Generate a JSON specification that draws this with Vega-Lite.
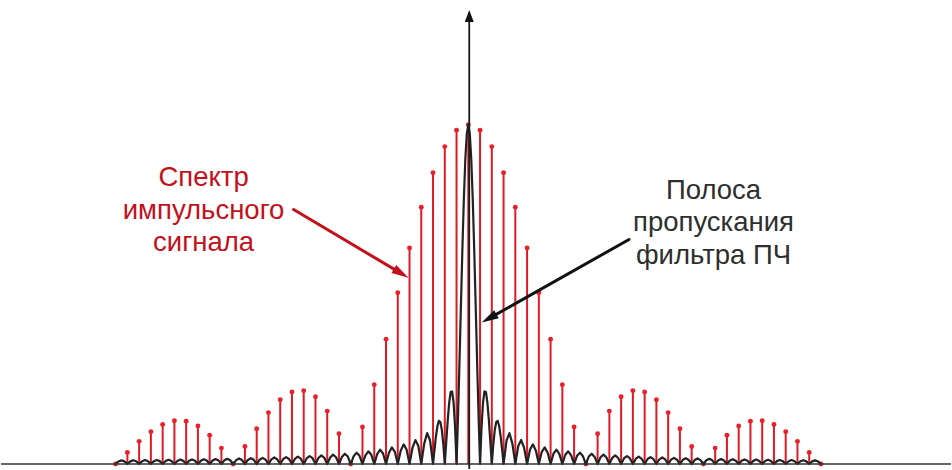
{
  "$schema": "https://vega.github.io/schema/vega-lite/v6.json",
  "width": 952,
  "height": 470,
  "autosize": {"type": "fit", "contains": "padding"},
  "padding": 0,
  "background": "white",
  "config": {"view": {"stroke": null}},
  "datasets": {
    "stems": [
      {"n": -30, "a": 0}, {"n": -29, "a": 0.03392}, {"n": -28, "a": 0.06682}, {"n": -27, "a": 0.09538}, {"n": -26, "a": 0.11643}, {"n": -25, "a": 0.12732}, {"n": -24, "a": 0.12614}, {"n": -23, "a": 0.11196}, {"n": -22, "a": 0.08505}, {"n": -21, "a": 0.04684},
      {"n": -20, "a": 0}, {"n": -19, "a": 0.05177}, {"n": -18, "a": 0.10394}, {"n": -17, "a": 0.15148}, {"n": -16, "a": 0.18921}, {"n": -15, "a": 0.21221}, {"n": -14, "a": 0.21624}, {"n": -13, "a": 0.19809}, {"n": -12, "a": 0.15592}, {"n": -11, "a": 0.08942},
      {"n": -10, "a": 0}, {"n": -9, "a": 0.10929}, {"n": -8, "a": 0.23387}, {"n": -7, "a": 0.36788}, {"n": -6, "a": 0.50455}, {"n": -5, "a": 0.63662}, {"n": -4, "a": 0.75683}, {"n": -3, "a": 0.85839}, {"n": -2, "a": 0.93549}, {"n": -1, "a": 0.98363},
      {"n": 0, "a": 1},
      {"n": 1, "a": 0.98363}, {"n": 2, "a": 0.93549}, {"n": 3, "a": 0.85839}, {"n": 4, "a": 0.75683}, {"n": 5, "a": 0.63662}, {"n": 6, "a": 0.50455}, {"n": 7, "a": 0.36788}, {"n": 8, "a": 0.23387}, {"n": 9, "a": 0.10929}, {"n": 10, "a": 0},
      {"n": 11, "a": 0.08942}, {"n": 12, "a": 0.15592}, {"n": 13, "a": 0.19809}, {"n": 14, "a": 0.21624}, {"n": 15, "a": 0.21221}, {"n": 16, "a": 0.18921}, {"n": 17, "a": 0.15148}, {"n": 18, "a": 0.10394}, {"n": 19, "a": 0.05177}, {"n": 20, "a": 0},
      {"n": 21, "a": 0.04684}, {"n": 22, "a": 0.08505}, {"n": 23, "a": 0.11196}, {"n": 24, "a": 0.12614}, {"n": 25, "a": 0.12732}, {"n": 26, "a": 0.11643}, {"n": 27, "a": 0.09538}, {"n": 28, "a": 0.06682}, {"n": 29, "a": 0.03392}, {"n": 30, "a": 0}
    ],
    "filter": [
      {"x": -30, "y": 0}, {"x": -29.75, "y": 0.00757}, {"x": -29.5, "y": 0.01079}, {"x": -29.25, "y": 0.00769}, {"x": -29, "y": 0},
      {"x": -28.75, "y": 0.00783}, {"x": -28.5, "y": 0.01117}, {"x": -28.25, "y": 0.00797}, {"x": -28, "y": 0},
      {"x": -27.75, "y": 0.00811}, {"x": -27.5, "y": 0.01157}, {"x": -27.25, "y": 0.00826}, {"x": -27, "y": 0},
      {"x": -26.75, "y": 0.00841}, {"x": -26.5, "y": 0.01201}, {"x": -26.25, "y": 0.00857}, {"x": -26, "y": 0},
      {"x": -25.75, "y": 0.00874}, {"x": -25.5, "y": 0.01248}, {"x": -25.25, "y": 0.00891}, {"x": -25, "y": 0},
      {"x": -24.75, "y": 0.00909}, {"x": -24.5, "y": 0.01299}, {"x": -24.25, "y": 0.00928}, {"x": -24, "y": 0},
      {"x": -23.75, "y": 0.00948}, {"x": -23.5, "y": 0.01355}, {"x": -23.25, "y": 0.00968}, {"x": -23, "y": 0},
      {"x": -22.75, "y": 0.00989}, {"x": -22.5, "y": 0.01415}, {"x": -22.25, "y": 0.01012}, {"x": -22, "y": 0},
      {"x": -21.75, "y": 0.01035}, {"x": -21.5, "y": 0.01481}, {"x": -21.25, "y": 0.01059}, {"x": -21, "y": 0},
      {"x": -20.75, "y": 0.01085}, {"x": -20.5, "y": 0.01553}, {"x": -20.25, "y": 0.01111}, {"x": -20, "y": 0},
      {"x": -19.75, "y": 0.0114}, {"x": -19.5, "y": 0.01632}, {"x": -19.25, "y": 0.01169}, {"x": -19, "y": 0},
      {"x": -18.75, "y": 0.012}, {"x": -18.5, "y": 0.01721}, {"x": -18.25, "y": 0.01233}, {"x": -18, "y": 0},
      {"x": -17.75, "y": 0.01268}, {"x": -17.5, "y": 0.01819}, {"x": -17.25, "y": 0.01305}, {"x": -17, "y": 0},
      {"x": -16.75, "y": 0.01344}, {"x": -16.5, "y": 0.01929}, {"x": -16.25, "y": 0.01385}, {"x": -16, "y": 0},
      {"x": -15.75, "y": 0.01429}, {"x": -15.5, "y": 0.02054}, {"x": -15.25, "y": 0.01476}, {"x": -15, "y": 0},
      {"x": -14.75, "y": 0.01526}, {"x": -14.5, "y": 0.02195}, {"x": -14.25, "y": 0.01579}, {"x": -14, "y": 0},
      {"x": -13.75, "y": 0.01637}, {"x": -13.5, "y": 0.02358}, {"x": -13.25, "y": 0.01699}, {"x": -13, "y": 0},
      {"x": -12.75, "y": 0.01765}, {"x": -12.5, "y": 0.02546}, {"x": -12.25, "y": 0.01837}, {"x": -12, "y": 0},
      {"x": -11.75, "y": 0.01916}, {"x": -11.5, "y": 0.02768}, {"x": -11.25, "y": 0.02001}, {"x": -11, "y": 0},
      {"x": -10.75, "y": 0.02094}, {"x": -10.5, "y": 0.03032}, {"x": -10.25, "y": 0.02196}, {"x": -10, "y": 0},
      {"x": -9.75, "y": 0.02308}, {"x": -9.5, "y": 0.03351}, {"x": -9.25, "y": 0.02433}, {"x": -9, "y": 0},
      {"x": -8.75, "y": 0.02572}, {"x": -8.5, "y": 0.03745}, {"x": -8.25, "y": 0.02728}, {"x": -8, "y": 0},
      {"x": -7.75, "y": 0.02904}, {"x": -7.5, "y": 0.04244}, {"x": -7.25, "y": 0.03105}, {"x": -7, "y": 0},
      {"x": -6.75, "y": 0.03335}, {"x": -6.5, "y": 0.04897}, {"x": -6.25, "y": 0.03601}, {"x": -6, "y": 0},
      {"x": -5.75, "y": 0.03914}, {"x": -5.5, "y": 0.05787}, {"x": -5.25, "y": 0.04287}, {"x": -5, "y": 0},
      {"x": -4.75, "y": 0.04739}, {"x": -4.5, "y": 0.07074}, {"x": -4.25, "y": 0.05296}, {"x": -4, "y": 0},
      {"x": -3.75, "y": 0.06002}, {"x": -3.5, "y": 0.09095}, {"x": -3.25, "y": 0.06926}, {"x": -3, "y": 0},
      {"x": -2.875, "y": 0.04237}, {"x": -2.75, "y": 0.08185}, {"x": -2.625, "y": 0.11203}, {"x": -2.5, "y": 0.12732}, {"x": -2.375, "y": 0.12382}, {"x": -2.25, "y": 0.10004}, {"x": -2.125, "y": 0.05732}, {"x": -2, "y": 0},
      {"x": -1.875, "y": 0.06497}, {"x": -1.75, "y": 0.12862}, {"x": -1.625, "y": 0.18097}, {"x": -1.5, "y": 0.21221}, {"x": -1.375, "y": 0.21388}, {"x": -1.25, "y": 0.18006}, {"x": -1.125, "y": 0.10828}, {"x": -1, "y": 0},
      {"x": -0.875, "y": 0.13921}, {"x": -0.75, "y": 0.30011}, {"x": -0.625, "y": 0.47053}, {"x": -0.5, "y": 0.63662}, {"x": -0.375, "y": 0.78421}, {"x": -0.25, "y": 0.90032}, {"x": -0.125, "y": 0.97449},
      {"x": 0, "y": 1},
      {"x": 0.125, "y": 0.97449}, {"x": 0.25, "y": 0.90032}, {"x": 0.375, "y": 0.78421}, {"x": 0.5, "y": 0.63662}, {"x": 0.625, "y": 0.47053}, {"x": 0.75, "y": 0.30011}, {"x": 0.875, "y": 0.13921}, {"x": 1, "y": 0},
      {"x": 1.125, "y": 0.10828}, {"x": 1.25, "y": 0.18006}, {"x": 1.375, "y": 0.21388}, {"x": 1.5, "y": 0.21221}, {"x": 1.625, "y": 0.18097}, {"x": 1.75, "y": 0.12862}, {"x": 1.875, "y": 0.06497}, {"x": 2, "y": 0},
      {"x": 2.125, "y": 0.05732}, {"x": 2.25, "y": 0.10004}, {"x": 2.375, "y": 0.12382}, {"x": 2.5, "y": 0.12732}, {"x": 2.625, "y": 0.11203}, {"x": 2.75, "y": 0.08185}, {"x": 2.875, "y": 0.04237}, {"x": 3, "y": 0},
      {"x": 3.25, "y": 0.06926}, {"x": 3.5, "y": 0.09095}, {"x": 3.75, "y": 0.06002}, {"x": 4, "y": 0},
      {"x": 4.25, "y": 0.05296}, {"x": 4.5, "y": 0.07074}, {"x": 4.75, "y": 0.04739}, {"x": 5, "y": 0},
      {"x": 5.25, "y": 0.04287}, {"x": 5.5, "y": 0.05787}, {"x": 5.75, "y": 0.03914}, {"x": 6, "y": 0},
      {"x": 6.25, "y": 0.03601}, {"x": 6.5, "y": 0.04897}, {"x": 6.75, "y": 0.03335}, {"x": 7, "y": 0},
      {"x": 7.25, "y": 0.03105}, {"x": 7.5, "y": 0.04244}, {"x": 7.75, "y": 0.02904}, {"x": 8, "y": 0},
      {"x": 8.25, "y": 0.02728}, {"x": 8.5, "y": 0.03745}, {"x": 8.75, "y": 0.02572}, {"x": 9, "y": 0},
      {"x": 9.25, "y": 0.02433}, {"x": 9.5, "y": 0.03351}, {"x": 9.75, "y": 0.02308}, {"x": 10, "y": 0},
      {"x": 10.25, "y": 0.02196}, {"x": 10.5, "y": 0.03032}, {"x": 10.75, "y": 0.02094}, {"x": 11, "y": 0},
      {"x": 11.25, "y": 0.02001}, {"x": 11.5, "y": 0.02768}, {"x": 11.75, "y": 0.01916}, {"x": 12, "y": 0},
      {"x": 12.25, "y": 0.01837}, {"x": 12.5, "y": 0.02546}, {"x": 12.75, "y": 0.01765}, {"x": 13, "y": 0},
      {"x": 13.25, "y": 0.01699}, {"x": 13.5, "y": 0.02358}, {"x": 13.75, "y": 0.01637}, {"x": 14, "y": 0},
      {"x": 14.25, "y": 0.01579}, {"x": 14.5, "y": 0.02195}, {"x": 14.75, "y": 0.01526}, {"x": 15, "y": 0},
      {"x": 15.25, "y": 0.01476}, {"x": 15.5, "y": 0.02054}, {"x": 15.75, "y": 0.01429}, {"x": 16, "y": 0},
      {"x": 16.25, "y": 0.01385}, {"x": 16.5, "y": 0.01929}, {"x": 16.75, "y": 0.01344}, {"x": 17, "y": 0},
      {"x": 17.25, "y": 0.01305}, {"x": 17.5, "y": 0.01819}, {"x": 17.75, "y": 0.01268}, {"x": 18, "y": 0},
      {"x": 18.25, "y": 0.01233}, {"x": 18.5, "y": 0.01721}, {"x": 18.75, "y": 0.012}, {"x": 19, "y": 0},
      {"x": 19.25, "y": 0.01169}, {"x": 19.5, "y": 0.01632}, {"x": 19.75, "y": 0.0114}, {"x": 20, "y": 0},
      {"x": 20.25, "y": 0.01111}, {"x": 20.5, "y": 0.01553}, {"x": 20.75, "y": 0.01085}, {"x": 21, "y": 0},
      {"x": 21.25, "y": 0.01059}, {"x": 21.5, "y": 0.01481}, {"x": 21.75, "y": 0.01035}, {"x": 22, "y": 0},
      {"x": 22.25, "y": 0.01012}, {"x": 22.5, "y": 0.01415}, {"x": 22.75, "y": 0.00989}, {"x": 23, "y": 0},
      {"x": 23.25, "y": 0.00968}, {"x": 23.5, "y": 0.01355}, {"x": 23.75, "y": 0.00948}, {"x": 24, "y": 0},
      {"x": 24.25, "y": 0.00928}, {"x": 24.5, "y": 0.01299}, {"x": 24.75, "y": 0.00909}, {"x": 25, "y": 0},
      {"x": 25.25, "y": 0.00891}, {"x": 25.5, "y": 0.01248}, {"x": 25.75, "y": 0.00874}, {"x": 26, "y": 0},
      {"x": 26.25, "y": 0.00857}, {"x": 26.5, "y": 0.01201}, {"x": 26.75, "y": 0.00841}, {"x": 27, "y": 0},
      {"x": 27.25, "y": 0.00826}, {"x": 27.5, "y": 0.01157}, {"x": 27.75, "y": 0.00811}, {"x": 28, "y": 0},
      {"x": 28.25, "y": 0.00797}, {"x": 28.5, "y": 0.01117}, {"x": 28.75, "y": 0.00783}, {"x": 29, "y": 0},
      {"x": 29.25, "y": 0.00769}, {"x": 29.5, "y": 0.01079}, {"x": 29.75, "y": 0.00757}, {"x": 30, "y": 0}
    ]
  },
  "layer": [
    {
      "data": {"name": "stems"},
      "mark": {"type": "rule", "color": "#e01a24", "strokeWidth": 2},
      "encoding": {
        "x": {"field": "n", "type": "quantitative", "scale": {"domain": [-39.75, 41.06], "nice": false, "zero": false}, "axis": null},
        "y": {"field": "a", "type": "quantitative", "scale": {"domain": [-0.0147, 1.3676], "nice": false, "zero": false}, "axis": null},
        "y2": {"datum": 0}
      }
    },
    {
      "data": {"name": "stems"},
      "mark": {"type": "circle", "color": "#e8202a", "size": 24, "opacity": 1},
      "encoding": {
        "x": {"field": "n", "type": "quantitative", "scale": {"domain": [-39.75, 41.06], "nice": false, "zero": false}, "axis": null},
        "y": {"field": "a", "type": "quantitative", "scale": {"domain": [-0.0147, 1.3676], "nice": false, "zero": false}, "axis": null}
      }
    },
    {
      "data": {"name": "filter"},
      "mark": {"type": "line", "color": "#222222", "strokeWidth": 2.2, "strokeJoin": "round"},
      "encoding": {
        "x": {"field": "x", "type": "quantitative", "scale": {"domain": [-39.75, 41.06], "nice": false, "zero": false}, "axis": null},
        "y": {"field": "y", "type": "quantitative", "scale": {"domain": [-0.0147, 1.3676], "nice": false, "zero": false}, "axis": null}
      }
    },
    {
      "data": {"values": [{}]},
      "mark": {"type": "rule", "color": "#333333", "strokeWidth": 1.6},
      "encoding": {
        "y": {"datum": 0, "type": "quantitative", "scale": {"domain": [-0.0147, 1.3676], "nice": false, "zero": false}, "axis": null}
      }
    },
    {
      "data": {"values": [{"ax": 0.08, "y0": -0.0147, "y1": 1.3206}]},
      "mark": {"type": "rule", "color": "#1a1a1a", "strokeWidth": 1.8},
      "encoding": {
        "x": {"field": "ax", "type": "quantitative", "scale": {"domain": [-39.75, 41.06], "nice": false, "zero": false}, "axis": null},
        "y": {"field": "y0", "type": "quantitative", "scale": {"domain": [-0.0147, 1.3676], "nice": false, "zero": false}, "axis": null},
        "y2": {"field": "y1"}
      }
    },
    {
      "data": {"values": [{"ax": 0.08, "ay": 1.3206}]},
      "mark": {"type": "point", "shape": "M0,-1L0.75,1L-0.75,1Z", "size": 144, "filled": true, "color": "#111111", "opacity": 1},
      "encoding": {
        "x": {"field": "ax", "type": "quantitative", "scale": {"domain": [-39.75, 41.06], "nice": false, "zero": false}, "axis": null},
        "y": {"field": "ay", "type": "quantitative", "scale": {"domain": [-0.0147, 1.3676], "nice": false, "zero": false}, "axis": null}
      }
    },
    {
      "data": {"values": [{"x1": -14.86, "y1": 0.75, "x2": -5.71, "y2": 0.5618}]},
      "mark": {"type": "rule", "color": "#c4101a", "strokeWidth": 3, "strokeCap": "round"},
      "encoding": {
        "x": {"field": "x1", "type": "quantitative", "scale": {"domain": [-39.75, 41.06], "nice": false, "zero": false}, "axis": null},
        "y": {"field": "y1", "type": "quantitative", "scale": {"domain": [-0.0147, 1.3676], "nice": false, "zero": false}, "axis": null},
        "x2": {"field": "x2"},
        "y2": {"field": "y2"}
      }
    },
    {
      "data": {"values": [{"hx": -5.71, "hy": 0.5618}]},
      "mark": {"type": "point", "shape": "M0,-1L0.55,1L-0.55,1Z", "size": 289, "filled": true, "color": "#c4101a", "opacity": 1, "angle": 120.7},
      "encoding": {
        "x": {"field": "hx", "type": "quantitative", "scale": {"domain": [-39.75, 41.06], "nice": false, "zero": false}, "axis": null},
        "y": {"field": "hy", "type": "quantitative", "scale": {"domain": [-0.0147, 1.3676], "nice": false, "zero": false}, "axis": null}
      }
    },
    {
      "data": {"values": [{"x1": 13.67, "y1": 0.6618, "x2": 1.766, "y2": 0.4291}]},
      "mark": {"type": "rule", "color": "#111111", "strokeWidth": 3, "strokeCap": "round"},
      "encoding": {
        "x": {"field": "x1", "type": "quantitative", "scale": {"domain": [-39.75, 41.06], "nice": false, "zero": false}, "axis": null},
        "y": {"field": "y1", "type": "quantitative", "scale": {"domain": [-0.0147, 1.3676], "nice": false, "zero": false}, "axis": null},
        "x2": {"field": "x2"},
        "y2": {"field": "y2"}
      }
    },
    {
      "data": {"values": [{"hx": 1.766, "hy": 0.4291}]},
      "mark": {"type": "point", "shape": "M0,-1L0.55,1L-0.55,1Z", "size": 289, "filled": true, "color": "#111111", "opacity": 1, "angle": 240.6},
      "encoding": {
        "x": {"field": "hx", "type": "quantitative", "scale": {"domain": [-39.75, 41.06], "nice": false, "zero": false}, "axis": null},
        "y": {"field": "hy", "type": "quantitative", "scale": {"domain": [-0.0147, 1.3676], "nice": false, "zero": false}, "axis": null}
      }
    },
    {
      "data": {"values": [
        {"tx": -22.52, "ty": 0.8206, "t": "Спектр"},
        {"tx": -22.52, "ty": 0.7235, "t": "импульсного"},
        {"tx": -22.52, "ty": 0.6265, "t": "сигнала"}
      ]},
      "mark": {"type": "text", "font": "Liberation Sans", "fontSize": 27.5, "color": "#c4101a", "align": "center", "baseline": "alphabetic"},
      "encoding": {
        "x": {"field": "tx", "type": "quantitative", "scale": {"domain": [-39.75, 41.06], "nice": false, "zero": false}, "axis": null},
        "y": {"field": "ty", "type": "quantitative", "scale": {"domain": [-0.0147, 1.3676], "nice": false, "zero": false}, "axis": null},
        "text": {"field": "t"}
      }
    },
    {
      "data": {"values": [
        {"tx": 20.86, "ty": 0.7806, "t": "Полоса"},
        {"tx": 20.86, "ty": 0.6853, "t": "пропускания"},
        {"tx": 20.86, "ty": 0.5897, "t": "фильтра ПЧ"}
      ]},
      "mark": {"type": "text", "font": "Liberation Sans", "fontSize": 27.5, "color": "#2e2e2e", "align": "center", "baseline": "alphabetic"},
      "encoding": {
        "x": {"field": "tx", "type": "quantitative", "scale": {"domain": [-39.75, 41.06], "nice": false, "zero": false}, "axis": null},
        "y": {"field": "ty", "type": "quantitative", "scale": {"domain": [-0.0147, 1.3676], "nice": false, "zero": false}, "axis": null},
        "text": {"field": "t"}
      }
    }
  ]
}
